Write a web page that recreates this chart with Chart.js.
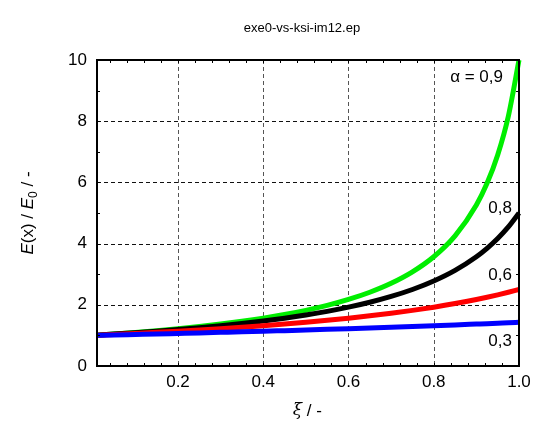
<!DOCTYPE html>
<html>
<head>
<meta charset="utf-8">
<script src="https://cdn.jsdelivr.net/npm/chart.js@4.4.1/dist/chart.umd.min.js"></script>
<style>
  html, body { margin: 0; padding: 0; background: #fff; }
  #wrap { width: 533px; height: 438px; }
</style>
</head>
<body>
<div id="wrap"><canvas id="chart"></canvas></div>
<script>
// relative position along the beam
const xi = [0.01, 0.05, 0.1, 0.15, 0.2, 0.25, 0.3, 0.35, 0.4, 0.45, 0.5, 0.55,
            0.6, 0.65, 0.7, 0.75, 0.8, 0.85, 0.9, 0.925, 0.95, 0.975, 1.0];

// E(x)/E0 for each alpha
const alpha03 = [1.003, 1.015, 1.031, 1.047, 1.064, 1.081, 1.099, 1.117, 1.136, 1.156, 1.176, 1.198,
                 1.220, 1.242, 1.266, 1.290, 1.316, 1.342, 1.370, 1.384, 1.399, 1.413, 1.429];
const alpha06 = [1.006, 1.031, 1.064, 1.099, 1.136, 1.176, 1.220, 1.266, 1.316, 1.370, 1.429, 1.493,
                 1.563, 1.639, 1.724, 1.818, 1.923, 2.041, 2.174, 2.247, 2.326, 2.410, 2.5];
const alpha08 = [1.008, 1.042, 1.087, 1.136, 1.190, 1.25, 1.316, 1.389, 1.471, 1.563, 1.667, 1.786,
                 1.923, 2.083, 2.273, 2.5, 2.778, 3.125, 3.571, 3.846, 4.167, 4.545, 5.0];
const alpha09 = [1.009, 1.047, 1.099, 1.156, 1.220, 1.290, 1.370, 1.460, 1.563, 1.681, 1.818, 1.980,
                 2.174, 2.410, 2.703, 3.077, 3.571, 4.255, 5.263, 5.970, 6.897, 8.163, 10.0];

const xTicks = [0.2, 0.4, 0.6, 0.8, 1.0];
const yTicks = [0, 2, 4, 6, 8, 10];

const curveLabels = [
  { text: 'α = 0,9', x: 503, y: 77 },
  { text: '0,8', x: 512, y: 208 },
  { text: '0,6', x: 512, y: 275 },
  { text: '0,3', x: 512, y: 341 }
];

const FONT = '"Liberation Sans", Arial, sans-serif';

function pts(ys) {
  return xi.map((x, i) => ({ x: x, y: ys[i] }));
}

function line(label, ys, color) {
  return {
    label: label,
    data: pts(ys),
    borderColor: color,
    backgroundColor: color,
    borderWidth: 5,
    pointRadius: 0,
    showLine: true,
    cubicInterpolationMode: 'monotone',
    clip: 4
  };
}

// dashed grid under the curves
const dashedGrid = {
  id: 'dashedGrid',
  beforeDatasetsDraw(chart) {
    const ctx = chart.ctx;
    const a = chart.chartArea;
    const xs = chart.scales.x;
    const ys = chart.scales.y;
    ctx.save();
    ctx.lineWidth = 1;
    ctx.setLineDash([4, 3]);
    ctx.strokeStyle = '#555';
    ctx.beginPath();
    xTicks.forEach(v => {
      const px = Math.round(xs.getPixelForValue(v)) + 0.5;
      ctx.moveTo(px, a.top); ctx.lineTo(px, a.bottom);
    });
    ctx.stroke();
    ctx.strokeStyle = '#111';
    ctx.beginPath();
    yTicks.forEach(v => {
      const py = Math.round(ys.getPixelForValue(v)) + 0.5;
      ctx.moveTo(a.left, py); ctx.lineTo(a.right, py);
    });
    ctx.stroke();
    ctx.restore();
  }
};

// frame, minor ticks, titles and curve labels
const decorations = {
  id: 'decorations',
  afterDraw(chart) {
    const ctx = chart.ctx;
    const a = chart.chartArea;
    const xs = chart.scales.x;
    const ys = chart.scales.y;
    ctx.save();

    // minor ticks on all four sides
    ctx.strokeStyle = '#000';
    ctx.lineWidth = 1;
    ctx.beginPath();
    for (let v = 0.04; v < 1.0; v += 0.04) {
      const px = Math.round(xs.getPixelForValue(v)) + 0.5;
      if (px <= a.left + 1 || px >= a.right - 1) continue;
      ctx.moveTo(px, a.bottom); ctx.lineTo(px, a.bottom - 3);
      ctx.moveTo(px, a.top); ctx.lineTo(px, a.top + 3);
    }
    for (let v = 1; v < 10; v += 1) {
      const py = Math.round(ys.getPixelForValue(v)) + 0.5;
      ctx.moveTo(a.left, py); ctx.lineTo(a.left + 3, py);
      ctx.moveTo(a.right, py); ctx.lineTo(a.right - 3, py);
    }
    ctx.stroke();

    // plot frame
    ctx.lineWidth = 2;
    ctx.strokeRect(a.left, a.top, a.right - a.left, a.bottom - a.top);

    // title
    ctx.fillStyle = '#000';
    ctx.font = '13px ' + FONT;
    ctx.textAlign = 'center';
    ctx.textBaseline = 'middle';
    ctx.fillText('exe0-vs-ksi-im12.ep', 302, 28);

    // x axis title
    ctx.font = 'italic 17px "DejaVu Serif", serif';
    ctx.textAlign = 'right';
    ctx.fillText('ξ', 302, 411);
    ctx.font = '17px ' + FONT;
    ctx.textAlign = 'left';
    ctx.fillText(' / -', 302, 411);

    // y axis title, rotated, with subscript
    ctx.translate(28, 213);
    ctx.rotate(-Math.PI / 2);
    const parts = [
      { t: 'E', f: 'italic 17px ' + FONT, dy: 0 },
      { t: '(x) / ', f: '17px ' + FONT, dy: 0 },
      { t: 'E', f: 'italic 17px ' + FONT, dy: 0 },
      { t: '0', f: '12px ' + FONT, dy: 6 },
      { t: ' / -', f: '17px ' + FONT, dy: 0 }
    ];
    let w = 0;
    parts.forEach(p => { ctx.font = p.f; w += ctx.measureText(p.t).width; });
    let cx = -w / 2;
    ctx.textAlign = 'left';
    parts.forEach(p => {
      ctx.font = p.f;
      ctx.fillText(p.t, cx, p.dy);
      cx += ctx.measureText(p.t).width;
    });
    ctx.setTransform(1, 0, 0, 1, 0, 0);

    // curve labels
    ctx.font = '17px ' + FONT;
    ctx.textAlign = 'right';
    ctx.textBaseline = 'middle';
    ctx.fillStyle = '#000';
    curveLabels.forEach(l => ctx.fillText(l.text, l.x, l.y));

    ctx.restore();
  }
};

new Chart(document.getElementById('chart'), {
  type: 'scatter',
  data: {
    datasets: [
      line('0,3', alpha03, '#0000ff'),
      line('0,6', alpha06, '#ff0000'),
      line('0,8', alpha08, '#000000'),
      line('0,9', alpha09, '#00ee00')
    ]
  },
  options: {
    responsive: true,
    maintainAspectRatio: false,
    animation: false,
    layout: { padding: { left: 0, right: 14, top: 60, bottom: 0 } },
    plugins: {
      legend: { display: false },
      tooltip: { enabled: false },
      title: { display: false }
    },
    scales: {
      x: {
        type: 'linear',
        min: 0.01,
        max: 1.0,
        afterBuildTicks(scale) { scale.ticks = xTicks.map(v => ({ value: v })); },
        afterFit(scale) {
          scale.height = 72;
          scale.paddingLeft = 0;
          scale.paddingRight = 0;
        },
        ticks: {
          color: '#000',
          font: { family: FONT, size: 17 },
          padding: 6,
          maxRotation: 0,
          callback: v => v.toFixed(1)
        },
        grid: { display: false, drawTicks: false },
        border: { display: false }
      },
      y: {
        min: 0,
        max: 10,
        afterBuildTicks(scale) { scale.ticks = yTicks.map(v => ({ value: v })); },
        afterFit(scale) { scale.width = 97; },
        ticks: {
          color: '#000',
          font: { family: FONT, size: 17 },
          padding: 10,
          callback: v => String(v)
        },
        grid: { display: false, drawTicks: false },
        border: { display: false }
      }
    }
  },
  plugins: [dashedGrid, decorations]
});
</script>
</body>
</html>
